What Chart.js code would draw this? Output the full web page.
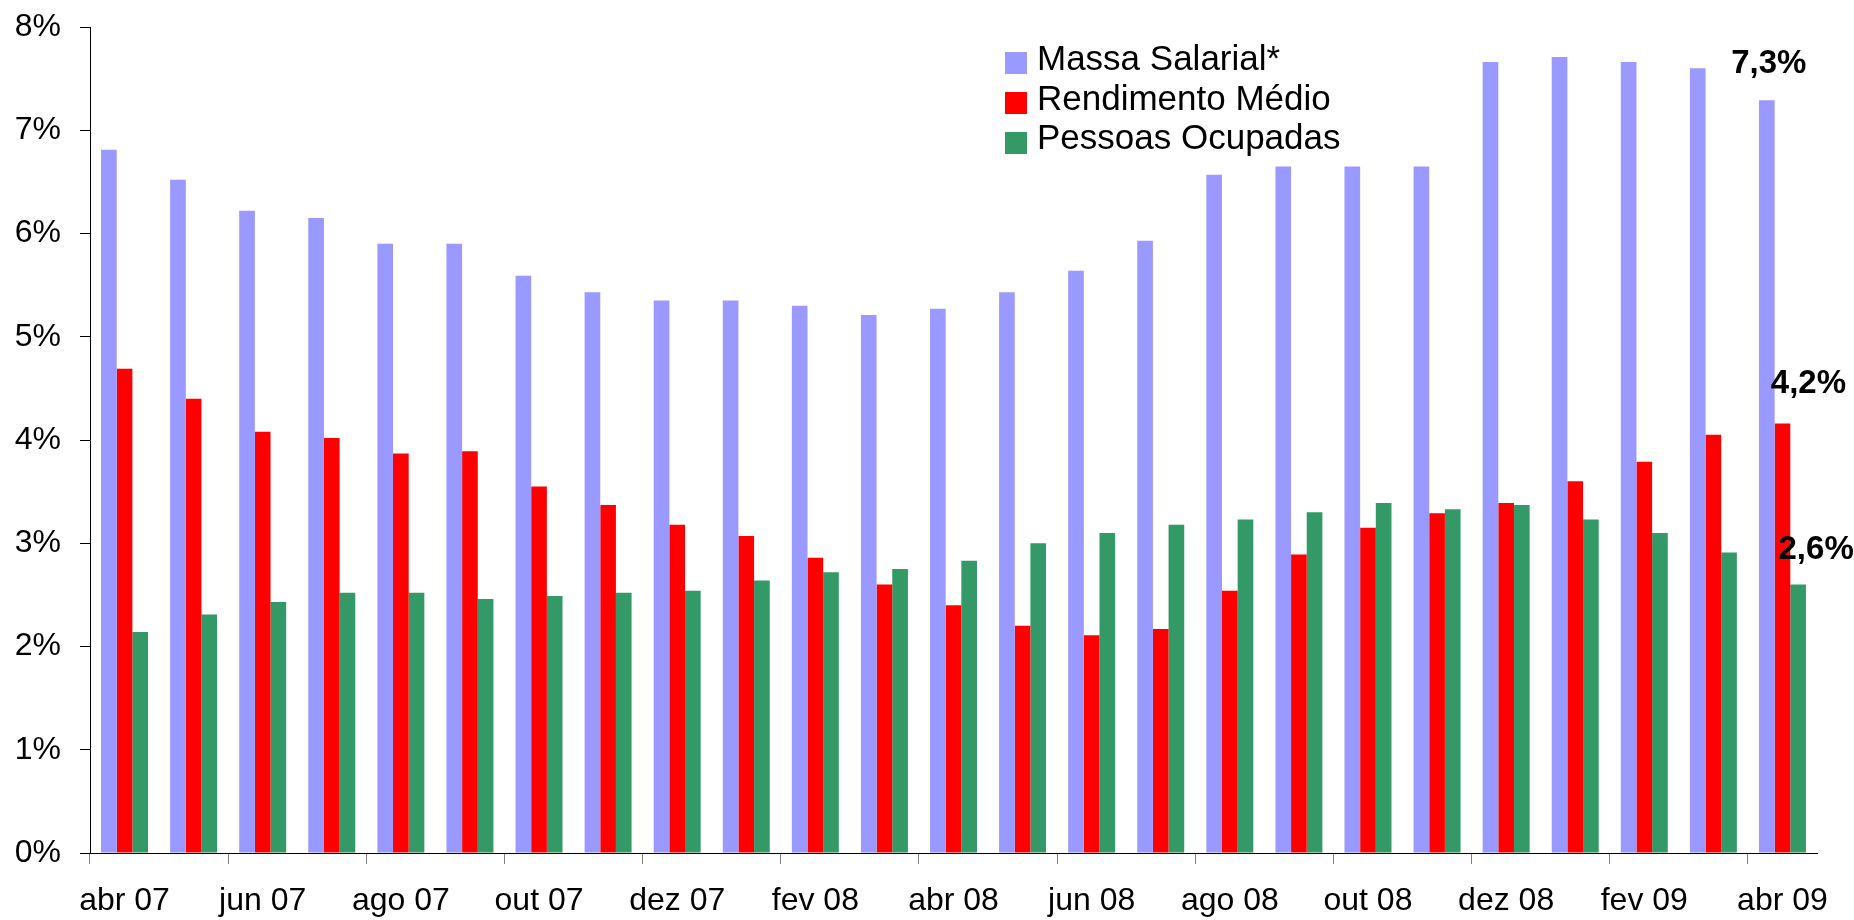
<!DOCTYPE html>
<html>
<head>
<meta charset="utf-8">
<script src="https://cdn.jsdelivr.net/npm/chart.js@4"></script>
<style>
  html, body { margin: 0; padding: 0; background: #fff; }
  #wrap { width: 1854px; height: 920px; position: relative; }
</style>
</head>
<body>
<div id="wrap"><canvas id="myChart"></canvas></div>
<script>
// meses abr 07 .. abr 09
var meses = ["abr 07", "mai 07", "jun 07", "jul 07", "ago 07", "set 07", "out 07", "nov 07", "dez 07",
    "jan 08", "fev 08", "mar 08", "abr 08", "mai 08", "jun 08", "jul 08", "ago 08", "set 08", "out 08", "nov 08", "dez 08",
    "jan 09", "fev 09", "mar 09", "abr 09"]

var massaSalarial = [6.81, 6.52, 6.22, 6.15, 5.90, 5.90, 5.59, 5.43, 5.35,
    5.35, 5.30, 5.21, 5.27, 5.43, 5.64, 5.93, 6.57, 6.65, 6.65, 6.65, 7.66,
    7.71, 7.66, 7.60, 7.29]

var rendimentoMedio = [4.69, 4.40, 4.08, 4.02, 3.87, 3.89, 3.55, 3.37, 3.18,
    3.07, 2.86, 2.60, 2.40, 2.20, 2.11, 2.17, 2.54, 2.89, 3.15, 3.29, 3.39,
    3.60, 3.79, 4.05, 4.16]

var pessoasOcupadas = [2.14, 2.31, 2.43, 2.52, 2.52, 2.46, 2.49, 2.52, 2.54,
    2.64, 2.72, 2.75, 2.83, 3.00, 3.10, 3.18, 3.23, 3.30, 3.39, 3.33, 3.37,
    3.23, 3.10, 2.91, 2.60]

var yTicks = [0, 1, 2, 3, 4, 5, 6, 7, 8]

Chart.defaults.font.family = "'Liberation Sans', Arial, sans-serif"
Chart.defaults.color = "#000"

// rotulos do ultimo mes (7,3% / 4,2% / 2,6%)
var rotuloOffsets = [[2, -27], [26, -30], [18, -26]]

var rotulosFinais = {
    id: "rotulosFinais",
    afterDatasetsDraw: function (chart) {
        var ctx = chart.ctx
        ctx.save()
        ctx.font = "bold 33px 'Liberation Sans', Arial, sans-serif"
        ctx.fillStyle = "#000"
        ctx.textAlign = "center"
        ctx.textBaseline = "alphabetic"
        chart.data.datasets.forEach(function (ds, i) {
            var meta = chart.getDatasetMeta(i)
            var last = ds.data.length - 1
            var bar = meta.data[last]
            var txt = ds.data[last].toFixed(1).replace(".", ",") + "%"
            ctx.fillText(txt, bar.x + rotuloOffsets[i][0], bar.y + rotuloOffsets[i][1])
        })
        ctx.restore()
    }
}

// legenda dentro do grafico
var legenda = {
    id: "legenda",
    afterDraw: function (chart) {
        var ctx = chart.ctx
        ctx.save()
        ctx.font = "35px 'Liberation Sans', Arial, sans-serif"
        ctx.textBaseline = "alphabetic"
        chart.data.datasets.forEach(function (ds, i) {
            var top = 52 + i * 40
            ctx.fillStyle = ds.backgroundColor
            ctx.fillRect(1005, top, 22, 22)
            ctx.fillStyle = "#000"
            ctx.fillText(ds.label, 1037, 70 + i * 39.5)
        })
        ctx.restore()
    }
}

var chartField = document.querySelector("#myChart").getContext("2d")

var myChart = new Chart(chartField, {
    type: "bar",
    data: {
        labels: meses,
        datasets: [{
            label: "Massa Salarial*",
            data: massaSalarial,
            backgroundColor: "#9999FF"
        }, {
            label: "Rendimento Médio",
            data: rendimentoMedio,
            backgroundColor: "#FF0000"
        }, {
            label: "Pessoas Ocupadas",
            data: pessoasOcupadas,
            backgroundColor: "#339966"
        }]
    },
    options: {
        responsive: true,
        maintainAspectRatio: false,
        animation: false,
        layout: { padding: { top: 27, right: 37, left: 0, bottom: 0 } },
        datasets: {
            bar: { categoryPercentage: 0.68, barPercentage: 1.0 }
        },
        plugins: {
            legend: { display: false },
            tooltip: { enabled: false }
        },
        scales: {
            x: {
                afterFit: function (scale) { scale.height = 67 },
                border: { display: true, color: "#000", width: 1 },
                grid: {
                    offset: true,
                    drawOnChartArea: false,
                    drawTicks: true,
                    tickLength: 11,
                    lineWidth: 1,
                    color: function (c) { return c.index % 2 === 0 ? "#808080" : "rgba(0,0,0,0)" }
                },
                ticks: {
                    autoSkip: false,
                    maxRotation: 0,
                    padding: 18,
                    font: { size: 32 },
                    callback: function (v, i) { return i % 2 === 0 ? meses[i] : "" }
                }
            },
            y: {
                min: 0,
                max: 8,
                afterFit: function (scale) {
                    scale.width = 90
                    scale.paddingTop = 0
                    scale.paddingBottom = 0
                },
                afterBuildTicks: function (scale) {
                    scale.ticks = yTicks.map(function (v) { return { value: v } })
                },
                border: { display: true, color: "#000", width: 1 },
                grid: {
                    drawOnChartArea: false,
                    tickLength: 10,
                    color: "#000"
                },
                ticks: {
                    padding: 19,
                    font: { size: 32 },
                    callback: function (v) { return v + "%" }
                }
            }
        }
    },
    plugins: [rotulosFinais, legenda]
});
</script>
</body>
</html>
